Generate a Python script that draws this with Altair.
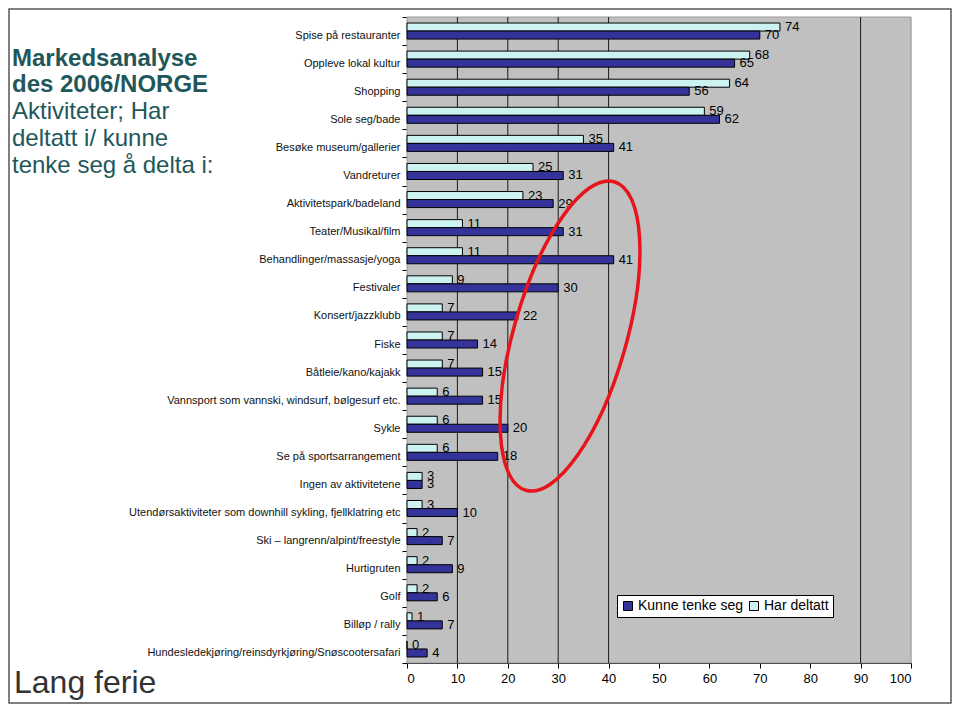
import math
import altair as alt
import pandas as pd

# ---------------- data ----------------
CATEGORIES = [
    "Spise på restauranter",
    "Oppleve lokal kultur",
    "Shopping",
    "Sole seg/bade",
    "Besøke museum/gallerier",
    "Vandreturer",
    "Aktivitetspark/badeland",
    "Teater/Musikal/film",
    "Behandlinger/massasje/yoga",
    "Festivaler",
    "Konsert/jazzklubb",
    "Fiske",
    "Båtleie/kano/kajakk",
    "Vannsport som vannski, windsurf, bølgesurf etc.",
    "Sykle",
    "Se på sportsarrangement",
    "Ingen av aktivitetene",
    "Utendørsaktiviteter som downhill sykling, fjellklatring etc",
    "Ski – langrenn/alpint/freestyle",
    "Hurtigruten",
    "Golf",
    "Billøp / rally",
    "Hundesledekjøring/reinsdyrkjøring/Snøscootersafari",
]
HAR_DELTATT = [74, 68, 64, 59, 35, 25, 23, 11, 11, 9, 7, 7, 7, 6, 6, 6, 3, 3, 2, 2, 2, 1, 0]
KUNNE_TENKE_SEG = [70, 65, 56, 62, 41, 31, 29, 31, 41, 30, 22, 14, 15, 15, 20, 18, 3, 10, 7, 9, 6, 7, 4]
SERIES_LEGEND = ["Kunne tenke seg", "Har deltatt"]
SERIES_STACK = ["Har deltatt", "Kunne tenke seg"]
X_TICKS = list(range(0, 101, 10))
GRID_LINES = [10, 20, 30, 40, 90]
TITLE_BOLD = ["Markedsanalyse", "des 2006/NORGE"]
TITLE_REGULAR = ["Aktiviteter; Har", "deltatt i/ kunne", "tenke seg å delta i:"]
SUBTITLE = "Lang ferie"

# ---------------- styling ----------------
FONT = "Liberation Sans"
DARK = "#333399"
LIGHT = "#ccf2f2"
TEAL = "#22575a"
PLOT_W, PLOT_H = 504, 646

n = len(CATEGORIES)
df = pd.DataFrame({
    "Aktivitet": CATEGORIES + CATEGORIES,
    "Serie": ["Har deltatt"] * n + ["Kunne tenke seg"] * n,
    "Prosent": HAR_DELTATT + KUNNE_TENKE_SEG,
})
grid_df = pd.DataFrame({"Prosent": GRID_LINES})

x_axis = alt.Axis(title=None, values=X_TICKS, grid=False, labelFontSize=13,
                  labelFont=FONT, labelColor="black", tickSize=5,
                  tickColor="black", domainColor="black", labelPadding=4)
x_scale = alt.Scale(domain=[0, 100], nice=False, zero=True)
x_enc = alt.X("Prosent:Q", scale=x_scale, axis=x_axis)

y_enc = alt.Y("Aktivitet:N", sort=CATEGORIES,
              scale=alt.Scale(paddingInner=0, paddingOuter=0),
              axis=alt.Axis(title=None, labelFontSize=11, labelFont=FONT,
                            labelColor="#111111", labelLimit=400,
                            tickBand="extent", tickSize=5, tickColor="black",
                            domainColor="black", labelPadding=2,
                            labelOffset=4, grid=False))
yoff_enc = alt.YOffset("Serie:N", sort=SERIES_STACK,
                       scale=alt.Scale(paddingOuter=0.75, paddingInner=0))

color_enc = alt.Color(
    "Serie:N",
    scale=alt.Scale(domain=SERIES_LEGEND, range=[DARK, LIGHT]),
    legend=alt.Legend(orient="none", legendX=210, legendY=578,
                      direction="horizontal", title=None,
                      fillColor="white", strokeColor="black", padding=4,
                      symbolType="square", symbolSize=81,
                      symbolStrokeColor="black", symbolStrokeWidth=1,
                      labelFontSize=14, labelFont=FONT, labelColor="black",
                      columnPadding=3, labelOffset=3),
)

# gray plot-area background (decoration)
plot_bg = alt.Chart(alt.Data(values=[{}])).mark_rect(
    fill="#c0c0c0", stroke="#9a9a9a", strokeWidth=1
).encode(x=alt.value(0), x2=alt.value(PLOT_W), y=alt.value(0), y2=alt.value(PLOT_H))

grid = alt.Chart(grid_df).mark_rule(color="#1a1a1a", strokeWidth=1).encode(x=x_enc)

bars = alt.Chart(df).mark_bar(stroke="black", strokeWidth=1).encode(
    x=x_enc, y=y_enc, yOffset=yoff_enc, color=color_enc
)

labels = alt.Chart(df).mark_text(
    align="left", baseline="middle", dx=5, fontSize=13, font=FONT, color="black"
).encode(x=x_enc, y=y_enc, yOffset=yoff_enc, text="Prosent:Q")

# red hand-drawn ellipse annotation (shape path, not data)
A_PX, B_PX = 160.5, 56.3
ANG = math.radians(-74)
c, s = math.cos(ANG), math.sin(ANG)
K = 0.5523
ratio = B_PX / A_PX


def T(u, v):
    v = v * ratio
    return (u * c - v * s, u * s + v * c)


segs = [
    [(1, K), (K, 1), (0, 1)],
    [(-K, 1), (-1, K), (-1, 0)],
    [(-1, -K), (-K, -1), (0, -1)],
    [(K, -1), (1, -K), (1, 0)],
]
p0 = T(1, 0)
path = "M%.4f,%.4f" % p0
for seg in segs:
    path += " C" + " ".join("%.4f,%.4f" % T(*p) for p in seg)
path += " Z"

ellipse = alt.Chart(alt.Data(values=[{}])).mark_point(
    shape=path, size=(2 * A_PX) ** 2, filled=False, color="#e8141b",
    strokeWidth=3.5, opacity=1
).encode(x=alt.value(163), y=alt.value(319))

title_bold = alt.Chart(alt.Data(values=[{}])).mark_text(
    align="left", baseline="alphabetic", font=FONT, fontSize=24,
    fontWeight="bold", color=TEAL, lineHeight=26.75
).encode(x=alt.value(-395), y=alt.value(48.5), text=alt.value(TITLE_BOLD))

title_reg = alt.Chart(alt.Data(values=[{}])).mark_text(
    align="left", baseline="alphabetic", font=FONT, fontSize=24,
    color=TEAL, lineHeight=26.75
).encode(x=alt.value(-395), y=alt.value(102), text=alt.value(TITLE_REGULAR))

sub = alt.Chart(alt.Data(values=[{}])).mark_text(
    align="left", baseline="alphabetic", font=FONT, fontSize=32, color="#333333"
).encode(x=alt.value(-393), y=alt.value(676), text=alt.value(SUBTITLE))

frame = alt.Chart(alt.Data(values=[{}])).mark_rect(
    fill="transparent", stroke="#555555", strokeWidth=1.5
).encode(x=alt.value(-398), x2=alt.value(544), y=alt.value(-8), y2=alt.value(686))

chart = alt.layer(
    plot_bg, grid, bars, labels, ellipse, title_bold, title_reg, sub, frame
).properties(
    width=PLOT_W, height=PLOT_H,
    autosize=alt.AutoSizeParams(type="none"),
    padding={"left": 399, "top": 9, "right": 41, "bottom": 41},
    background="white",
).configure_view(
    strokeWidth=0
).configure(font=FONT)

chart.save("out.html", embed_options={"renderer": "svg", "actions": False})
